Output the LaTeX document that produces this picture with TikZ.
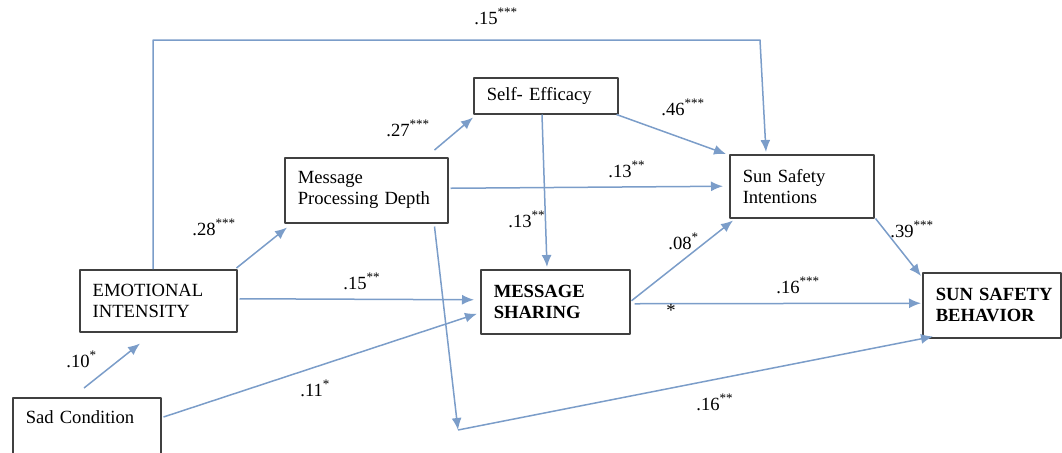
\documentclass[tikz,border=0pt]{standalone}
\usepackage{fontspec}
\setmainfont{Liberation Serif}
\usetikzlibrary{arrows.meta,calc}
\definecolor{linkblue}{HTML}{7B9DC9}
\newcommand{\sig}[1]{\textsuperscript{#1}}
\tikzset{
  var/.style={draw=black!75,line width=0.75pt,anchor=north west,align=left,inner xsep=6.5pt,inner ysep=0pt,font=\fontsize{9.3}{10.5}\selectfont},
  effect/.style={draw=linkblue,line width=0.75pt,-{Latex[length=6pt,width=5pt]}},
  coef/.style={anchor=base west,inner sep=0pt,font=\fontsize{9.3}{11}\selectfont}
}
\begin{document}
\begin{tikzpicture}[x=0.5pt,y=-0.5pt,line join=round]
\useasboundingbox (0,0) rectangle (1062,452);
% boxes
\node[var,text width=61pt,minimum height=29.5pt] (sad) at (12,397) {Sad Condition\\~};
\node[var,text width=65.5pt,minimum height=31pt] (ei) at (79,269) {EMOTIONAL\\INTENSITY};
\node[var,text width=68.5pt,minimum height=32.5pt] (mpd) at (284,157) {Message\\Processing Depth};
\node[var,text width=59pt,minimum height=18pt] (se) at (473,77) {Self- Efficacy};
\node[var,text width=59pt,minimum height=31.5pt] (ssi) at (729,154) {Sun Safety\\Intentions};
\node[var,text width=61.5pt,minimum height=32pt,font=\fontsize{9.3}{10.5}\selectfont\bfseries] (ms) at (480,269) {MESSAGE\\SHARING};
\node[var,text width=56pt,inner xsep=6.5pt,minimum height=32.5pt,font=\fontsize{9.3}{10.5}\selectfont\bfseries] (beh) at (922,272) {\mbox{SUN SAFETY}\\BEHAVIOR};
\coordinate (low) at (458,430);
\coordinate (topl) at (153,40);
\coordinate (topr) at (760,40);
% paths
\draw[effect] ($(sad.north west)+(72,-9)$) -- ($(ei.south west)+(61,11)$);
\draw[effect] ($(sad.north east)+(2,20)$) -- ($(ms.west)+(-3,12)$);
\draw[effect] ($(ei.east)+(2,-2)$) -- ($(ms.west)+(-6,-2)$);
\draw[effect] ($(ei.north east)+(-1,-1)$) -- ($(mpd.south west)+(3,4)$);
\draw[effect] ($(ei.north west)+(74,0)$) -- (topl) -- (topr) -- ($(ssi.north west)+(37,-2)$);
\draw[effect] ($(mpd.north east)+(-14,-7)$) -- ($(se.south west)+(0,3)$);
\draw[effect] ($(se.south east)+(-2,0)$) -- ($(ssi.north west)+(-3,0)$);
\draw[effect] ($(mpd.east)+(2,-2)$) -- ($(ssi.west)+(-6,0)$);
\draw[effect] ($(se.south west)+(69,0)$) -- ($(ms.north west)+(67,-2)$);
\draw[effect] ($(ms.east)+(1,-1)$) -- ($(ssi.south west)+(4,2)$);
\draw[effect] ($(ms.east)+(4,2)$) -- ($(beh.west)+(-1,-2)$);
\draw[effect] ($(ssi.south east)+(1,0)$) -- ($(beh.north west)+(-1,4)$);
\draw[effect] ($(mpd.south east)+(-14,3)$) -- (low);
\draw[effect] (low) -- ($(beh.south west)+(11,-2)$);
% coefficients
\foreach \n/\x/\y/\t in {c1/66/367/.10\sig{*}, c2/300/396/.11\sig{*}, c3/343/289/.15\sig{**},
  c4/192/235/.28\sig{***}, c5/386/136/.27\sig{***}, c6/661/115/.46\sig{***},
  c7/608/177/.13\sig{**}, c8/508/227/.13\sig{**}, c9/668/249/.08\sig{*},
  c10/776/293/.16\sig{***}, c11/890/237/.39\sig{***}, c12/696/410/.16\sig{**},
  c13/474/24/.15\sig{***}, c14/666/316/*}
  {\node[coef] (\n) at (\x,\y) {\t};}
\end{tikzpicture}
\end{document}
